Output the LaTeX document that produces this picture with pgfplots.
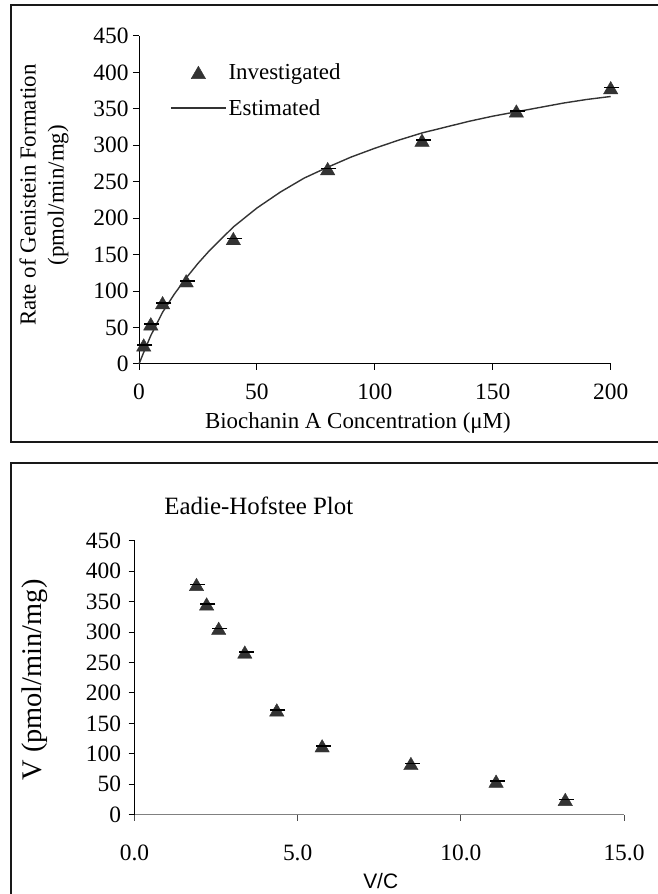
\documentclass[border=0pt]{standalone}
\usepackage{pgfplots}
\pgfplotsset{compat=1.18}
\usepackage{fontspec}
\setmainfont{Liberation Serif}
\setsansfont{Liberation Sans}
\definecolor{mk}{HTML}{333333}
\definecolor{ln}{HTML}{333333}
\definecolor{ax}{HTML}{808080}
\begin{document}
\begin{tikzpicture}
\path[use as bounding box] (0bp,0bp) rectangle (658bp,894bp);
% panel frames
\draw[line width=1.8bp, black!90] (662bp,889.3bp) -- (11bp,889.3bp) -- (11bp,452.3bp) -- (662bp,452.3bp);
\draw[line width=1.8bp, black!90] (11bp,-4bp) -- (11bp,431.3bp) -- (662bp,431.3bp);
% ---------------- top panel ----------------
\begin{axis}[
  at={(139bp,530bp)}, anchor=south west,
  scale only axis, width=471.7bp, height=328bp,
  xmin=0, xmax=200, ymin=0, ymax=450,
  clip=false,
  axis lines=left, axis line style={-, line width=1bp, black},
  xtick={0,50,...,200}, ytick={0,50,...,450},
  tick align=outside, major tick length=6bp,
  every tick/.style={line width=1bp, black},
  /pgf/number format/assume math mode=true,
  ticklabel style={font=\fontsize{23.5}{27}\selectfont},
  xticklabel style={yshift=-13bp, inner sep=1bp},
  yticklabel style={xshift=-1bp},
  xlabel={Biochanin A Concentration (μM)},
  xlabel style={at={(axis description cs:0.464,-0.18)}, anchor=center, inner sep=1bp, font=\fontsize{23}{27}\selectfont},
  ylabel={Rate of Genistein Formation\\(pmol/min/mg)},
  ylabel style={at={(axis description cs:-0.2014,0.515)}, anchor=center, align=center, font=\fontsize{23}{28}\selectfont},
  legend style={at={(axis description cs:0.0657,0.922)}, anchor=north west, draw=none, fill=none,
    font=\fontsize{23}{27}\selectfont, row sep=14bp, inner sep=0pt, nodes={inner sep=2bp}},
  legend cell align=left,
  legend image code/.code={\draw[mark repeat=2,mark phase=2] plot coordinates {(0bp,0bp)(27.5bp,0bp)(55bp,0bp)};},
]
\addplot[only marks, mark=triangle*, mark size=8.3bp, color=mk, mark options={fill=mk, draw=mk, yshift=-2bp}]
  coordinates {(2,26)(5,55)(10,84)(20,114)(40,172)(80,268)(120,307)(160,347)(200,379)};
\addlegendentry{Investigated}
\addplot[only marks, mark=-, mark size=7.5bp, color=black, mark options={xshift=1.2bp, line width=1.5bp}, forget plot]
  coordinates {(2,26)(5,55)(10,84)(20,114)(40,172)(80,268)(120,307)(160,347)(200,379)};
\addplot[color=ln, line width=1.4bp, no marks]
  coordinates {(0,0)(2,16)(5,39)(10,71)(15,96)(20,118)(25,138)(30,156)(40,188)(50,214)(60,236)
  (70,255)(80,270)(90,284)(100,296)(110,307)(120,317)(130,325)(140,333)(150,340)
  (160,346)(170,352)(180,358)(190,363)(200,367)};
\addlegendentry{Estimated}
\end{axis}
% ---------------- bottom panel ----------------
\begin{axis}[
  at={(134.5bp,79.3bp)}, anchor=south west,
  scale only axis, width=489.5bp, height=274bp,
  xmin=0, xmax=15, ymin=0, ymax=450,
  clip=false,
  axis lines=left, axis line style={-, line width=1bp},
  x axis line style={color=ax}, y axis line style={color=black},
  xtick={0,5,10,15}, ytick={0,50,...,450},
  tick align=outside, major tick length=6bp,
  x tick style={line width=1bp, color=ax!60!black},
  y tick style={line width=1bp, color=black},
  /pgf/number format/assume math mode=true,
  xticklabel style={/pgf/number format/fixed, /pgf/number format/fixed zerofill, /pgf/number format/precision=1, yshift=-21bp},
  ticklabel style={font=\fontsize{23.5}{27}\selectfont},
  yticklabel style={xshift=-4bp},
  title={Eadie-Hofstee Plot},
  title style={at={(axis description cs:0.054,1.106)}, anchor=west, font=\fontsize{25}{29}\selectfont},
  xlabel={V/C},
  xlabel style={at={(axis description cs:0.503,-0.243)}, anchor=center, font=\sffamily\fontsize{21}{25}\selectfont},
  ylabel={V (pmol/min/mg)},
  ylabel style={at={(axis description cs:-0.2033,0.4916)}, anchor=center, font=\fontsize{28.5}{33}\selectfont},
]
\addplot[only marks, mark=triangle*, mark size=8.3bp, color=mk, mark options={fill=mk, draw=mk, yshift=-2bp}]
  coordinates {(1.90,378)(2.21,346)(2.58,306)(3.38,267)(4.36,172)(5.75,113)(8.47,84)(11.08,55)(13.20,25)};
\addplot[only marks, mark=-, mark size=7.5bp, color=black, mark options={xshift=1.2bp, line width=1.5bp}]
  coordinates {(1.90,378)(2.21,346)(2.58,306)(3.38,267)(4.36,172)(5.75,113)(8.47,84)(11.08,55)(13.20,25)};
\end{axis}
\end{tikzpicture}
\end{document}
